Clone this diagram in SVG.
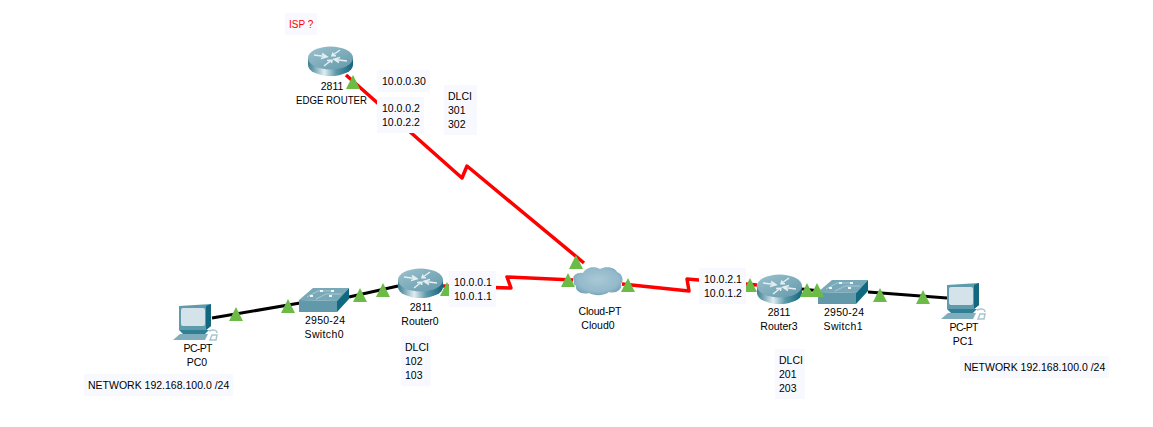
<svg xmlns="http://www.w3.org/2000/svg" xmlns:xlink="http://www.w3.org/1999/xlink" width="1153" height="427" viewBox="0 0 1153 427">
  <style>
    text { font-family: "Liberation Sans", Arial, sans-serif; font-size: 10.5px; fill: #000; }
    .mid { text-anchor: middle; }
    .note { fill: #f8f9ff; }
    .serial { fill: none; stroke: #ff0000; stroke-width: 3.5; stroke-linejoin: round; }
    .copper { fill: none; stroke: #000; stroke-width: 3.2; }
    .link-up { fill: #6cbb47; }
  </style>
  <defs>
    <linearGradient id="routerSide" x1="0" x2="1" y1="0" y2="0">
      <stop offset="0" stop-color="#3f8094"/>
      <stop offset="0.12" stop-color="#6da0b0"/>
      <stop offset="0.36" stop-color="#dfedf0"/>
      <stop offset="0.62" stop-color="#5f9aac"/>
      <stop offset="1" stop-color="#12647b"/>
    </linearGradient>
    <linearGradient id="routerTop" x1="0" x2="1" y1="0" y2="1">
      <stop offset="0" stop-color="#9cc1cd"/>
      <stop offset="1" stop-color="#6399ab"/>
    </linearGradient>
    <radialGradient id="cloudFill" cx="0.5" cy="0.45" r="0.6">
      <stop offset="0" stop-color="#a9c8d6"/>
      <stop offset="0.7" stop-color="#93b9ca"/>
      <stop offset="1" stop-color="#6f9fb6"/>
    </radialGradient>
    <g id="router">
      <path d="M0,11 V18 A22.5,11 0 0 0 45,18 V11 Z" fill="url(#routerSide)"/>
      <ellipse cx="22.5" cy="11" rx="22.5" ry="11.5" fill="url(#routerTop)"/>
      <path d="M6,8 L18,9.5 M14,6.500 L19,9.800 L13,11.500 M39,14 L27,12.500 M31,15.500 L26,12.200 L32,10.500 M16,19 L23,13.500 M19,13.500 L24,13 L23.500,16 M32,3 L25,8 M28,8.800 L24,8.800 L25,5.500" fill="none" stroke="#e4eff2" stroke-width="1.500"/>
    </g>
    <g id="switch">
      <path d="M0,12 L14,0 H50 L38,13 Z" fill="#79a9b8"/>
      <path d="M0,12 L38,13 V24 H0 Z" fill="#6199ab"/>
      <path d="M38,13 L50,0 V11 L38,24 Z" fill="#0f6a80"/>
      <path d="M8,9 L19,3 H34 M17,11 L27,6 H42" fill="none" stroke="#a9c8d2" stroke-width="1"/>
      <path d="M11,8 h3 M21,3 h3 M32,3 h3 M30,8 h3" stroke="#eef6f8" stroke-width="2"/>
    </g>
    <g id="pc">
      <path d="M6,3 L38,1 V23 L33,27 H6 Z" fill="#5f9bad"/>
      <path d="M33,3 L38,1 V23 L33,27 Z" fill="#12687f"/>
      <rect x="8" y="5" width="24" height="18" rx="2" fill="#d4e3ea"/>
      <path d="M6,27 H36 L32,31 H10 Z" fill="#2f7f95"/>
      <path d="M0,37 L7,31 H35 L32,37 Z" fill="#7fadbb"/>
      <path d="M36,28 C41,26 44,27 44,30 M37,37 L39,32 H44 L43,37 Z" fill="none" stroke="#a9c6cf" stroke-width="1.500"/>
    </g>
    <g id="cloud">
      <path d="M1,14 C-2,8 5,5 10,6 C13,0 22,-1 27,2 C32,-1 42,0 44,5 C50,7 51,14 48,17 C50,23 42,27 36,25 C31,29 21,29 16,26 C9,28 2,24 3,19 C1,18 0,16 1,14 Z" fill="url(#cloudFill)"/>
    </g>
    <path id="up" class="link-up" d="M0,0 L7,14 H-7 Z"/>
  </defs>

  <rect width="1153" height="427" fill="#ffffff"/>

  <!-- connectors -->
  <g id="connectors">
    <polyline class="serial" points="346,75 462,178 467,166 584,263"/>
    <polyline class="serial" points="443,286 511,288 507,277 573,280"/>
    <polyline class="serial" points="622,284 689,291 687,279 757,285"/>
    <polyline class="copper" points="212,318 300,303"/>
    <polyline class="copper" points="349,297 398,286"/>
    <polyline class="copper" points="802,289 820,291"/>
    <polyline class="copper" points="868,292 947,298"/>
  </g>

  <g id="edge-router">
    <use href="#router" x="308" y="47"/>
    <text class="mid" x="332" y="90">2811</text>
    <text class="mid" x="331.500" y="104" textLength="71" lengthAdjust="spacingAndGlyphs">EDGE ROUTER</text>
  </g>
  <g id="router0">
    <use href="#router" x="398" y="269"/>
    <text class="mid" x="421" y="311">2811</text>
    <text class="mid" x="420" y="325">Router0</text>
  </g>
  <g id="router3">
    <use href="#router" x="757" y="275"/>
    <text class="mid" x="779" y="316">2811</text>
    <text class="mid" x="779" y="330">Router3</text>
  </g>
  <g id="switch0">
    <use href="#switch" x="299" y="288"/>
    <text class="mid" x="325" y="324" textLength="40">2950-24</text>
    <text class="mid" x="324" y="338" textLength="39">Switch0</text>
  </g>
  <g id="switch1">
    <use href="#switch" x="818" y="280"/>
    <text class="mid" x="844" y="316" textLength="40">2950-24</text>
    <text class="mid" x="843" y="330" textLength="39">Switch1</text>
  </g>
  <g id="pc0">
    <use href="#pc" x="173" y="303"/>
    <text class="mid" x="198" y="352" textLength="29">PC-PT</text>
    <text class="mid" x="197" y="366">PC0</text>
  </g>
  <g id="pc1">
    <use href="#pc" x="941" y="282"/>
    <text class="mid" x="964" y="331" textLength="29">PC-PT</text>
    <text class="mid" x="963" y="345">PC1</text>
  </g>
  <g id="cloud0">
    <use href="#cloud" x="573" y="267"/>
    <text class="mid" x="600" y="315" textLength="43">Cloud-PT</text>
    <text class="mid" x="598" y="329">Cloud0</text>
  </g>

  <!-- link state lights -->
  <g id="link-lights">
    <use href="#up" x="353" y="75"/>
    <use href="#up" x="236" y="307"/>
    <use href="#up" x="288" y="299"/>
    <use href="#up" x="360" y="288"/>
    <use href="#up" x="383" y="283"/>
    <use href="#up" x="447" y="282"/>
    <use href="#up" x="576" y="255"/>
    <use href="#up" x="568" y="273"/>
    <use href="#up" x="628" y="278"/>
    <use href="#up" x="750" y="278"/>
    <use href="#up" x="807" y="283"/>
    <use href="#up" x="817" y="283"/>
    <use href="#up" x="880" y="288"/>
    <use href="#up" x="923" y="290"/>
  </g>

  <!-- annotations -->
  <g id="note-isp">
    <rect class="note" x="285" y="13" width="32" height="22"/>
    <text x="289" y="28" style="fill:#ff0000;font-size:10px">ISP ?</text>
  </g>
  <g id="note-edge-loopback">
    <rect class="note" x="377" y="70" width="53" height="22"/>
    <text x="382" y="85">10.0.0.30</text>
  </g>
  <g id="note-edge-ip">
    <rect class="note" x="377" y="97" width="47" height="36"/>
    <text x="382" y="112">10.0.0.2</text>
    <text x="382" y="126">10.0.2.2</text>
  </g>
  <g id="note-edge-dlci">
    <rect class="note" x="444" y="85" width="33" height="50"/>
    <text x="448" y="100">DLCI</text>
    <text x="448" y="114">301</text>
    <text x="448" y="128">302</text>
  </g>
  <g id="note-router0-ip">
    <rect class="note" x="449" y="271" width="47" height="36"/>
    <text x="454" y="286">10.0.0.1</text>
    <text x="454" y="300">10.0.1.1</text>
  </g>
  <g id="note-router0-dlci">
    <rect class="note" x="401" y="336" width="30" height="50"/>
    <text x="405" y="351">DLCI</text>
    <text x="405" y="365">102</text>
    <text x="405" y="379">103</text>
  </g>
  <g id="note-router3-ip">
    <rect class="note" x="699" y="268" width="47" height="36"/>
    <text x="704" y="283">10.0.2.1</text>
    <text x="704" y="297">10.0.1.2</text>
  </g>
  <g id="note-router3-dlci">
    <rect class="note" x="775" y="349" width="30" height="50"/>
    <text x="779" y="364">DLCI</text>
    <text x="779" y="378">201</text>
    <text x="779" y="392">203</text>
  </g>
  <g id="note-network-left">
    <rect class="note" x="84" y="374" width="149" height="22"/>
    <text x="88" y="389">NETWORK 192.168.100.0 /24</text>
  </g>
  <g id="note-network-right">
    <rect class="note" x="960" y="356" width="149" height="22"/>
    <text x="964" y="371">NETWORK 192.168.100.0 /24</text>
  </g>
</svg>
